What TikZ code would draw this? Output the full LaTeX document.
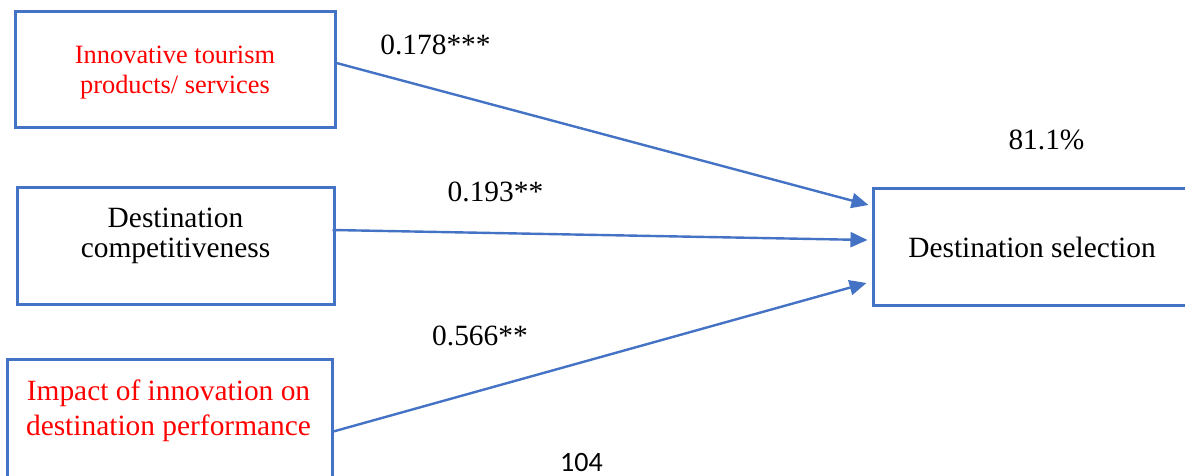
\documentclass[tikz,border=0pt]{standalone}
\usepackage{fontspec}
\setmainfont{Liberation Serif}
\newfontfamily\calibri{Carlito}
\usetikzlibrary{arrows.meta}
\definecolor{boxblue}{HTML}{4472C4}
\begin{document}
\begin{tikzpicture}[x=1pt,y=-1pt,
  box/.style={draw=boxblue, line width=3pt, rectangle, inner sep=0pt},
  txt/.style={align=center, inner sep=0pt, font=\fontsize{29.4}{30}\selectfont},
  lbl/.style={inner sep=0pt, font=\fontsize{29.4}{30}\selectfont},
  conn/.style={draw=boxblue, line width=2.4pt, -{Triangle[length=17pt,width=15pt]}}]
\useasboundingbox (0,0) rectangle (1185,475);
\clip (0,0) rectangle (1185,475);
% boxes
\node[box, minimum width=320pt, minimum height=116pt] (b1) at (175,69) {};
\node[box, minimum width=317pt, minimum height=117pt] (b2) at (175.5,245.5) {};
\node[box, minimum width=325pt, minimum height=141pt] (b3) at (169.5,429.5) {};
\node[box, minimum width=318pt, minimum height=117pt] (b4) at (1032,246.5) {};
% box texts
\node[txt, text=red, font=\fontsize{26.4}{30}\selectfont] (t1) at (175,72.5) {Innovative tourism\\products/ services};
\node[txt] (t2) at (175.5,236) {Destination\\competitiveness};
\node[txt, text=red, font=\fontsize{29.4}{35}\selectfont] (t3) at (168.5,411) {Impact of innovation on\\destination performance};
\node[txt] (t4) at (1032,247.5) {Destination selection};
% connectors
\draw[conn] ([yshift=6pt]b1.east) -- ([yshift=41.5pt,xshift=-3pt]b4.west);
\draw[conn] ([yshift=15.5pt,xshift=-3pt]b2.east) -- ([yshift=6.5pt,xshift=-4pt]b4.west);
\draw[conn] ([yshift=-2.5pt,xshift=-2pt]b3.east) -- ([yshift=-36.5pt,xshift=-5pt]b4.west);
% labels
\node[lbl] (l1) at (435.5,45) {0.178***};
\node[lbl] (l2) at (495.5,191.5) {0.193**};
\node[lbl] (l3) at (480,335.5) {0.566**};
\node[lbl] (r2) at (1046.5,140) {81.1\%};
\node[inner sep=0pt, font=\calibri\fontsize{28}{30}\selectfont] (pg) at (581.5,462.5) {104};
\end{tikzpicture}
\end{document}
